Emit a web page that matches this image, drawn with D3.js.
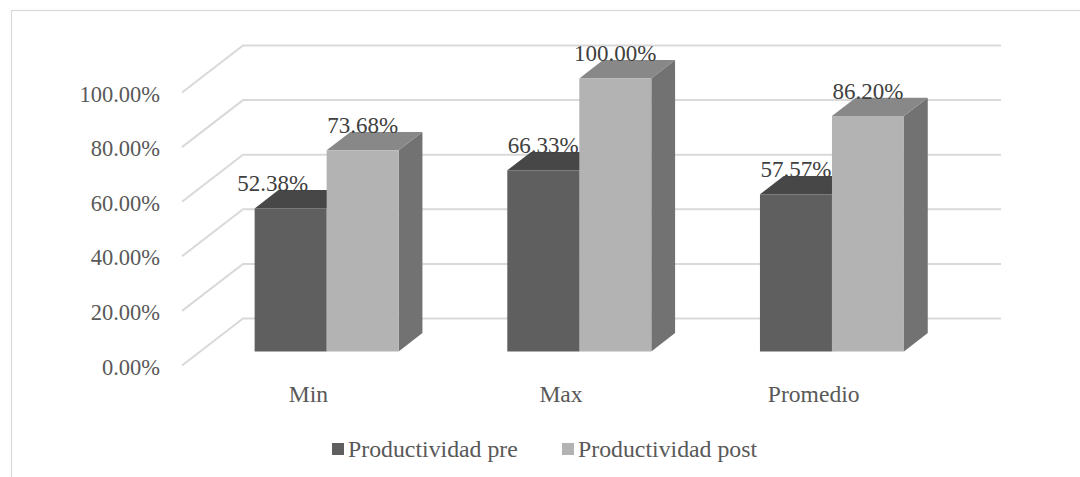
<!DOCTYPE html>
<html>
<head>
<meta charset="utf-8">
<script src="https://cdn.jsdelivr.net/npm/d3@7"></script>
<style>
  html, body { margin: 0; padding: 0; background: #fff; }
  svg { display: block; }
</style>
</head>
<body>
<svg id="chart" width="1080" height="477"></svg>
<script>
// Chart data
const categories = ["Min", "Max", "Promedio"];
const seriesNames = ["Productividad pre", "Productividad post"];
const pre = [0.5238, 0.6633, 0.5757];
const post = [0.7368, 1.0, 0.8620];
const yTicks = [0, 0.2, 0.4, 0.6, 0.8, 1.0];

const FONT = "'Times New Roman', 'Liberation Serif', 'DejaVu Serif', serif";

const svg = d3.select("#chart").attr("font-family", FONT);
const W = 1080, H = 477;

// Outer frame (runs past the right and bottom edges)
svg.append("rect")
  .attr("x", 11.5).attr("y", 10.5)
  .attr("width", W + 20).attr("height", H + 20)
  .attr("fill", "none").attr("stroke", "#d9d9d9").attr("stroke-width", 1.2);

// Oblique 3D projection: front plane scales plus a depth offset
const depthDX = 61, depthDY = -47;
const y = d3.scaleLinear().domain([0, 1]).range([365.5, 92.5]);
const x = d3.scaleBand().domain(categories).range([182, 940]).padding(0);
const proj = (px, v, z) => [px + z * depthDX, y(v) + z * depthDY];

// Gridlines: floor diagonal + back wall horizontal
const grid = svg.append("g");
yTicks.forEach(t => {
  const a = proj(x.range()[0], t, 0), b = proj(x.range()[0], t, 1), c = proj(x.range()[1], t, 1);
  grid.append("polyline")
    .attr("points", [a, b, c].map(p => p.join(",")).join(" "))
    .attr("fill", "none").attr("stroke", "#d9d9d9").attr("stroke-width", 2);
});

// Y axis labels
const fmt = v => (v * 100).toFixed(2) + "%";
svg.append("g").selectAll("text").data(yTicks).join("text")
  .attr("font-family", FONT)
  .attr("x", 160).attr("y", d => y(d) + 9)
  .attr("text-anchor", "end")
  .attr("font-size", 22.5).attr("fill", "#595959")
  .text(fmt);

// Category labels on the front edge of the floor
svg.append("g").selectAll("text").data(categories).join("text")
  .attr("font-family", FONT)
  .attr("x", d => x(d) + x.bandwidth() / 2).attr("y", 402)
  .attr("text-anchor", "middle")
  .attr("font-size", 23.6).attr("fill", "#595959")
  .text(d => d);

// Bars
const barW = 72, z0 = 0.30, z1 = 0.69;
const colors = {
  pre: { front: "#5f5f5f", top: "#474747", side: "#4f4f4f" },
  post: { front: "#b3b3b3", top: "#888888", side: "#727272" }
};
const poly = (g, pts, fill) => g.append("polygon")
  .attr("points", pts.map(p => p.join(",")).join(" "))
  .attr("fill", fill);

function drawBox(g, x0, x1, v, col) {
  const fbl = proj(x0, 0, z0), fbr = proj(x1, 0, z0), ftl = proj(x0, v, z0), ftr = proj(x1, v, z0);
  const bbr = proj(x1, 0, z1), btl = proj(x0, v, z1), btr = proj(x1, v, z1);
  poly(g, [fbr, bbr, btr, ftr], col.side);
  poly(g, [ftl, ftr, btr, btl], col.top);
  poly(g, [fbl, fbr, ftr, ftl], col.front);
}

const bars = svg.append("g");
const labels = [];
categories.forEach((c, i) => {
  const cx = x(c) + x.bandwidth() / 2;
  drawBox(bars, cx - barW, cx, pre[i], colors.pre);
  drawBox(bars, cx, cx + barW, post[i], colors.post);
  labels.push({ x: proj(cx - barW / 2, pre[i], z0)[0] + (i === 0 ? -18 : 0), y: proj(0, pre[i], z0)[1] - 17, v: pre[i] });
  labels.push({ x: proj(cx + barW / 2, post[i], z0)[0], y: proj(0, post[i], z0)[1] - 17, v: post[i] });
});

// Data labels
svg.append("g").selectAll("text").data(labels).join("text")
  .attr("font-family", FONT)
  .attr("x", d => d.x).attr("y", d => d.y)
  .attr("text-anchor", "middle")
  .attr("font-size", 23).attr("fill", "#404040")
  .text(d => fmt(d.v));

// Legend
const legend = svg.append("g");
const legendItems = [
  { name: seriesNames[0], color: colors.pre.front, x: 332 },
  { name: seriesNames[1], color: colors.post.front, x: 562 }
];
legendItems.forEach(d => {
  legend.append("rect").attr("x", d.x).attr("y", 443).attr("width", 12).attr("height", 12).attr("fill", d.color);
  legend.append("text").attr("font-family", FONT)
    .attr("x", d.x + 16).attr("y", 457)
    .attr("font-size", 23.8).attr("fill", "#595959").text(d.name);
});
</script>
</body>
</html>
